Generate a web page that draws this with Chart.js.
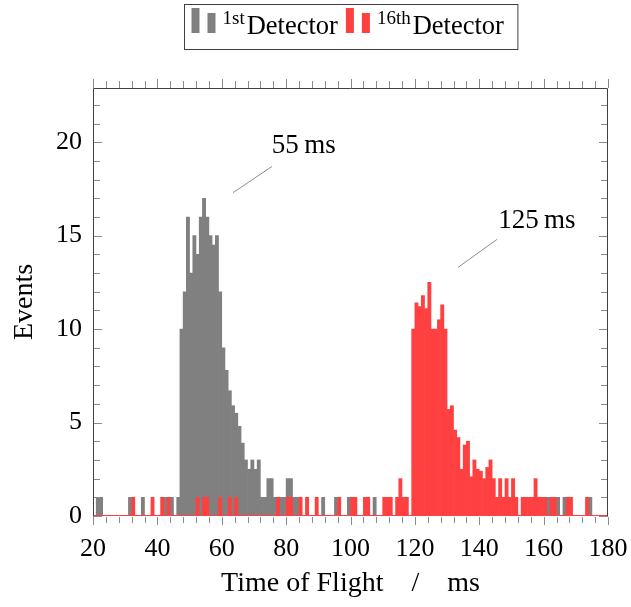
<!DOCTYPE html>
<html>
<head>
<meta charset="utf-8">
<script src="https://cdn.jsdelivr.net/npm/chart.js@4.4.1/dist/chart.umd.min.js"></script>
<style>
  html, body { margin: 0; padding: 0; background: #fff; }
  canvas { display: block; }
</style>
</head>
<body>
<canvas id="tof" width="631" height="607"></canvas>
<script>
// Histogram bins: 1 ms wide, starting at 20 ms
const firstBin = 20;
const binWidth = 1;
const binCount = 160;

// Events per bin, first detector (20 ms ... 179 ms)
const detector1Events = [
  0, 1, 1, 0, 0, 0, 0, 0, 0, 0,
  0, 1, 0, 0, 0, 1, 0, 0, 0, 0,
  0, 0, 1, 0, 1, 0, 1, 10, 12, 16,
  13, 15, 14, 16, 17, 16, 15, 14.5, 15, 12,
  9, 7.8, 6.7, 5.9, 5.5, 4.8, 3.9, 3, 2.5, 3,
  2.5, 3, 1, 1, 2, 2, 1, 1, 1, 1,
  2, 2, 1, 1, 0, 0, 0, 0, 0, 0,
  0, 1, 0, 0, 0, 1, 0, 0, 0, 1,
  0, 0, 0, 0, 0, 0, 0, 1, 0, 0,
  0, 0, 0, 0, 0, 0, 0, 0, 0, 0,
  0, 0, 0, 0, 0, 0, 0, 0, 0, 0,
  0, 0, 0, 0, 0, 0, 0, 0, 0, 0,
  0, 0, 0, 0, 0, 0, 0, 0, 0, 0,
  0, 0, 0, 0, 0, 0, 0, 0, 0, 0,
  0, 1, 0, 0, 1, 0, 1, 0, 0, 0,
  0, 0, 0, 0, 1, 0, 0, 0, 0, 0
];

// Events per bin, sixteenth detector (20 ms ... 179 ms)
const detector16Events = [
  0, 0, 0, 0, 0, 0, 0, 0, 0, 0,
  0, 0, 1, 0, 0, 0, 0, 0, 1, 0,
  0, 1, 0, 1, 0, 0, 0, 0, 0, 0,
  0, 0, 1, 0, 1, 1, 0, 0, 0, 1,
  0, 0, 1, 0, 1, 0, 0, 0, 0, 0,
  0, 0, 0, 0, 0, 0, 0, 1, 0, 0,
  1, 1, 0, 0, 1, 0, 1, 0, 0, 1,
  0, 0, 0, 0, 0, 0, 1, 0, 0, 0,
  1, 1, 0, 0, 1, 1, 0, 0, 0, 0,
  1, 1, 1, 0, 1, 2, 1, 1, 0, 10,
  11.4, 11.2, 11.8, 11.1, 12.5, 10, 10, 10.5, 11.3, 10,
  5.7, 5.9, 4.6, 4.2, 2.5, 3.8, 4, 2.1, 3, 2.5,
  2.4, 2, 2.6, 3, 2, 1, 2, 1, 2, 1,
  2, 1, 0, 1, 1, 1, 1, 2, 1, 1,
  1, 0, 1, 1, 0, 0, 0, 1, 1, 0,
  0, 0, 0, 1, 0, 0, 0, 0, 0, 0
];

// Axis ranges and ticks
const xRange = [20, 180];
const xMinorStep = 4;
const xMajorStep = 20;
const yRange = [0, 22.9];
const yMinorStep = 1;
const yMajorStep = 5;

// Axis titles
const xTitle = 'Time of Flight\u2003/\u2003ms';
const yTitle = 'Events';

// Legend entries
const legendSup = ['1st', '16th'];
const legendWord = 'Detector';

// Peak call-outs: label, marked point, end of pin line, label centre (data units)
const calloutText = ['55\u2009ms', '125\u2009ms'];
const calloutAt = [[63.5, 17.3], [133.4, 13.3]];
const calloutPinEnd = [[75.6, 18.7], [145.5, 14.8]];
const calloutLabel = [[85.5, 19.8], [157.9, 15.8]];

const GRAY = '#808080';
const RED = '#ff4040';
const FONT = '"Liberation Serif", "DejaVu Serif", serif';

function toPoints(values) {
  return values.map((v, i) => ({ x: firstBin + i * binWidth + binWidth / 2, y: v }));
}

// Frame and tick marks (x ticks outward, y ticks inward, mirrored on all sides)
const frameAndTicks = {
  id: 'frameAndTicks',
  afterDatasetsDraw(chart) {
    const { ctx, chartArea: a, scales: { x, y } } = chart;
    const seg = (x0, y0, x1, y1) => { ctx.beginPath(); ctx.moveTo(x0, y0); ctx.lineTo(x1, y1); ctx.stroke(); };
    ctx.save();
    ctx.lineWidth = 1;
    ctx.strokeStyle = '#8a8a8a';
    x.ticks.forEach(t => {
      const px = Math.round(x.getPixelForValue(t.value)) + 0.5;
      const len = t.value % xMajorStep === 0 ? 9 : 7;
      seg(px, a.bottom + 1, px, a.bottom + len);
      seg(px, a.top, px, a.top - len);
    });
    y.ticks.forEach(t => {
      if (!Number.isInteger(t.value)) return;
      const py = Math.round(y.getPixelForValue(t.value)) + 0.5;
      const len = t.value % yMajorStep === 0 ? 9 : 7;
      seg(a.left, py, a.left + len, py);
      seg(a.right, py, a.right - len, py);
    });
    ctx.strokeStyle = '#404040';
    const l = Math.round(a.left) + 0.5, r = Math.round(a.right) - 0.5, tp = Math.round(a.top) + 0.5;
    seg(l, a.bottom, l, tp);
    seg(l, tp, r, tp);
    seg(r, tp, r, a.bottom);
    ctx.restore();
  }
};

// Pin lines with the peak times
const callouts = {
  id: 'callouts',
  afterDatasetsDraw(chart) {
    const { ctx, scales: { x, y } } = chart;
    ctx.save();
    ctx.strokeStyle = '#6e6e6e';
    ctx.lineWidth = 0.8;
    ctx.fillStyle = '#000';
    ctx.font = '27px ' + FONT;
    ctx.textAlign = 'center';
    ctx.textBaseline = 'middle';
    calloutText.forEach((txt, i) => {
      ctx.beginPath();
      ctx.moveTo(x.getPixelForValue(calloutAt[i][0]), y.getPixelForValue(calloutAt[i][1]));
      ctx.lineTo(x.getPixelForValue(calloutPinEnd[i][0]), y.getPixelForValue(calloutPinEnd[i][1]));
      ctx.stroke();
      ctx.fillText(txt, x.getPixelForValue(calloutLabel[i][0]), y.getPixelForValue(calloutLabel[i][1]));
    });
    ctx.restore();
  }
};

// Boxed legend above the plot, with superscript ordinals
const legendBox = {
  id: 'legendBox',
  afterDraw(chart) {
    const { ctx, chartArea: a } = chart;
    const sets = chart.data.datasets.filter(d => d.legendIndex !== undefined)
      .sort((p, q) => p.legendIndex - q.legendIndex);
    const bigFont = '26.5px ' + FONT, supFont = '19px ' + FONT;
    const iconW = 24, gapIcon = 7, gapSup = 2, gapItem = 8, padL = 7, padR = 14;
    ctx.save();
    const items = sets.map(d => {
      ctx.font = supFont; const sw = ctx.measureText(legendSup[d.legendIndex]).width;
      ctx.font = bigFont; const tw = ctx.measureText(legendWord).width;
      return { color: d.backgroundColor, sup: legendSup[d.legendIndex], sw, tw };
    });
    let total = padL + padR;
    items.forEach((it, i) => { total += iconW + gapIcon + it.sw + gapSup + it.tw + (i ? gapItem : 0); });
    const boxX = Math.round((a.left + a.right) / 2 - total / 2) + 0.5;
    const boxY = 4.5, boxH = 45;
    ctx.fillStyle = '#fff';
    ctx.fillRect(boxX, boxY, total, boxH);
    ctx.strokeStyle = '#404040';
    ctx.lineWidth = 1;
    ctx.strokeRect(boxX, boxY, total, boxH);
    const base = 34;
    let cx = boxX + padL;
    items.forEach((it, i) => {
      if (i) cx += gapItem;
      ctx.fillStyle = it.color;
      ctx.fillRect(cx, base - 26, 8, 25);
      ctx.fillRect(cx + 16, base - 21, 8, 20);
      cx += iconW + gapIcon;
      ctx.fillStyle = '#000';
      ctx.textBaseline = 'alphabetic';
      ctx.textAlign = 'left';
      ctx.font = supFont;
      ctx.fillText(it.sup, cx, base - 10);
      cx += it.sw + gapSup;
      ctx.font = bigFont;
      ctx.fillText(legendWord, cx, base);
      cx += it.tw;
    });
    ctx.restore();
  }
};

new Chart(document.getElementById('tof'), {
  type: 'bar',
  data: {
    datasets: [
      {
        label: '1st Detector',
        legendIndex: 0,
        data: toPoints(detector1Events),
        backgroundColor: GRAY,
        order: 2
      },
      {
        label: '16th Detector',
        legendIndex: 1,
        data: toPoints(detector16Events),
        backgroundColor: RED,
        order: 1
      },
      {
        // zero-height bins of the sixteenth detector show as a line along the axis
        type: 'line',
        label: 'zero level',
        data: [{ x: firstBin, y: 0 }, { x: firstBin + binCount * binWidth, y: 0 }],
        borderColor: RED,
        borderWidth: 2,
        pointRadius: 0,
        order: 0
      }
    ]
  },
  options: {
    responsive: false,
    animation: false,
    layout: { padding: { top: 88, right: 23, left: 0, bottom: 0 } },
    datasets: {
      bar: { barPercentage: 1, categoryPercentage: 1, grouped: false, borderWidth: 0 }
    },
    plugins: { legend: { display: false }, tooltip: { enabled: false } },
    scales: {
      x: {
        type: 'linear',
        min: xRange[0],
        max: xRange[1],
        offset: false,
        grid: { display: false, drawTicks: false },
        border: { display: false },
        ticks: {
          stepSize: xMinorStep,
          includeBounds: false,
          autoSkip: false,
          maxRotation: 0,
          padding: 18,
          color: '#000',
          font: { family: FONT, size: 26 },
          callback: v => (v % xMajorStep === 0 ? v : '')
        },
        title: {
          display: true,
          text: xTitle,
          color: '#000',
          font: { family: FONT, size: 28 },
          padding: { top: 0, bottom: 7 }
        },
        afterFit: s => { s.height = 91; s.paddingLeft = 0; s.paddingRight = 0; }
      },
      y: {
        min: yRange[0],
        max: yRange[1],
        grid: { display: false, drawTicks: false },
        border: { display: false },
        ticks: {
          stepSize: yMinorStep,
          includeBounds: false,
          autoSkip: false,
          padding: 11,
          color: '#000',
          font: { family: FONT, size: 26 },
          callback: v => (v % yMajorStep === 0 ? v : '')
        },
        title: {
          display: true,
          text: yTitle,
          color: '#000',
          font: { family: FONT, size: 28 },
          padding: { top: 8, bottom: 0 }
        },
        afterFit: s => { s.width = 93; s.paddingTop = 0; s.paddingBottom = 0; }
      }
    }
  },
  plugins: [frameAndTicks, callouts, legendBox]
});
</script>
</body>
</html>
